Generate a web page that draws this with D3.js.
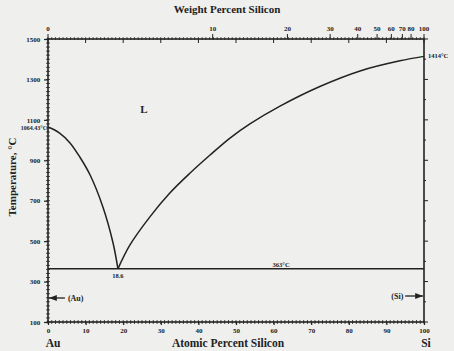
<!DOCTYPE html>
<html>
<head>
<meta charset="utf-8">
<script src="https://cdn.jsdelivr.net/npm/d3@7"></script>
<style>
body{margin:0;background:#efefed;}
svg text{font-family:"Liberation Serif","DejaVu Serif",serif;font-weight:bold;fill:#222;}
</style>
</head>
<body>
<div id="a"></div>
<script>
// liquidus (atomic % Si, deg C)
var leftAt = [0, 3, 5.85, 8.5, 11.2, 14.6, 17.3, 18.6]
var leftT = [1064.43, 1036, 986, 915, 827, 669, 491, 363]
var rightAt = [18.6, 21.8, 27.1, 32.4, 37.8, 43.1, 48.4, 53.7, 61.7, 72.3, 83, 93.6, 100]
var rightT = [363, 481, 620, 738, 837, 926, 1010, 1080, 1168, 1265, 1342, 1392, 1414]
var eutAt = 18.6, eutT = 363
var tempTicks = [100, 300, 500, 700, 900, 1100, 1300, 1500]
var atTicks = [0, 10, 20, 30, 40, 50, 60, 70, 80, 90, 100]
var wtTicks = [0, 10, 20, 30, 40, 50, 60, 70, 80, 100]

var W = 454, H = 351
var x = d3.scaleLinear().domain([0, 100]).range([48, 424])
var y = d3.scaleLinear().domain([100, 1500]).range([322, 39])

// weight % -> atomic % (Au 196.97, Si 28.086)
function wt2at(w) {
	var a = w / 28.086, b = (100 - w) / 196.97
	return 100 * a / (a + b)
}

svg = d3.select("#a").append("svg")
	.attr("width", W)
	.attr("height", H)
	.style("background-color", "#efefed")

var ink = "#222"

// frame
svg.append("rect")
	.attr("x", x(0)).attr("y", y(1500))
	.attr("width", x(100) - x(0)).attr("height", y(100) - y(1500))
	.attr("fill", "none").attr("stroke", ink).attr("stroke-width", 1.6)

// minor ticks, crossing the frame
var minorT = d3.range(100, 1501, 20)
svg.selectAll(".mL").data(minorT).enter().append("line")
	.attr("x1", x(0) - 2).attr("x2", x(0) + 2)
	.attr("y1", d => y(d)).attr("y2", d => y(d))
	.attr("stroke", ink).attr("stroke-width", 0.8)
var minorAt = d3.range(0, 101, 1)
svg.selectAll(".mB").data(minorAt).enter().append("line")
	.attr("x1", d => x(d)).attr("x2", d => x(d))
	.attr("y1", y(100) - 2).attr("y2", y(100) + 2)
	.attr("stroke", ink).attr("stroke-width", 0.8)
svg.selectAll(".mT").data(minorAt).enter().append("line")
	.attr("x1", d => x(d)).attr("x2", d => x(d))
	.attr("y1", y(1500) - 2).attr("y2", y(1500) + 1)
	.attr("stroke", ink).attr("stroke-width", 0.7)
svg.selectAll(".mR").data(d3.range(100, 1501, 100)).enter().append("line")
	.attr("x1", x(100)).attr("x2", d => x(100) + (d % 200 == 100 ? 4 : 2))
	.attr("y1", d => y(d)).attr("y2", d => y(d))
	.attr("stroke", ink).attr("stroke-width", 1)

// top: inward ticks at atomic tens
svg.selectAll(".tIn").data(atTicks).enter().append("line")
	.attr("x1", d => x(d)).attr("x2", d => x(d))
	.attr("y1", y(1500)).attr("y2", y(1500) + 4)
	.attr("stroke", ink).attr("stroke-width", 1)

// left axis
var yAxis = d3.axisLeft(y).tickValues(tempTicks).tickSize(4).tickFormat(d3.format("d"))
var gl = svg.append("g").attr("transform", "translate(" + x(0) + ",0)").call(yAxis)
// bottom axis
var xAxis = d3.axisBottom(x).tickValues(atTicks).tickSize(3).tickFormat(d3.format("d"))
var gb = svg.append("g").attr("transform", "translate(0," + y(100) + ")").call(xAxis)
;[gl, gb].forEach(function(g) {
	g.select(".domain").remove()
	g.selectAll("line").attr("stroke", ink).attr("stroke-width", 1.2)
	g.selectAll("text").style("font-size", "7px").attr("fill", ink)
})
gl.selectAll("text").attr("dx", "-0.1em")

// top weight percent ticks
var gt = svg.selectAll(".wt").data(wtTicks).enter().append("g")
	.attr("transform", d => "translate(" + x(wt2at(d)) + "," + y(1500) + ")")
gt.append("line").attr("y1", 0).attr("y2", -5).attr("stroke", ink).attr("stroke-width", 1)
gt.append("text").attr("y", -8).attr("text-anchor", "middle")
	.style("font-size", "7px").text(d => d)

// liquidus curves
var line = d3.line().x(d => x(d[0])).y(d => y(d[1])).curve(d3.curveCatmullRom.alpha(0.5))
svg.append("path").datum(d3.zip(leftAt, leftT)).attr("d", line)
	.attr("fill", "none").attr("stroke", ink).attr("stroke-width", 1.5)
svg.append("path").datum(d3.zip(rightAt, rightT)).attr("d", line)
	.attr("fill", "none").attr("stroke", ink).attr("stroke-width", 1.5)

// eutectic line
svg.append("line")
	.attr("x1", x(0)).attr("x2", x(100)).attr("y1", y(eutT)).attr("y2", y(eutT))
	.attr("stroke", ink).attr("stroke-width", 1.5)

// arrows
svg.append("defs").append("marker").attr("id", "ar")
	.attr("viewBox", "0 0 10 10").attr("refX", 10).attr("refY", 5)
	.attr("markerWidth", 6).attr("markerHeight", 6).attr("orient", "auto")
	.append("path").attr("d", "M0,1L10,5L0,9z").attr("fill", ink)
svg.append("line").attr("x1", x(4.5)).attr("x2", x(0) + 1).attr("y1", 298).attr("y2", 298)
	.attr("stroke", ink).attr("stroke-width", 1.3).attr("marker-end", "url(#ar)")
svg.append("line").attr("x1", x(95)).attr("x2", x(100) - 1).attr("y1", 296).attr("y2", 296)
	.attr("stroke", ink).attr("stroke-width", 1.3).attr("marker-end", "url(#ar)")

function label(t, px, py, size, anchor) {
	return svg.append("text").attr("x", px).attr("y", py)
		.attr("text-anchor", anchor || "middle").style("font-size", size + "px").text(t)
}
label("(Au)", x(5.3), 300.5, 8, "start")
label("(Si)", x(94.5), 298.5, 8, "end")
label("L", x(25.5), 113, 11)
label("18.6", x(eutAt), y(eutT) + 9, 6.5)
label("363°C", x(62), y(eutT) - 2, 6.5)
label("1064.43°C", 47, y(1064.43) + 3, 6, "end")
label("1414°C", 428, y(1414) + 2, 6.5, "start")
label("Weight Percent Silicon", 227, 13, 11)
label("Atomic Percent Silicon", 228, 347, 11.5)
label("Au", x(0) + 5, 347, 11.5)
label("Si", x(100) + 2, 347, 11.5)
svg.append("text").attr("transform", "translate(16,177) rotate(-90)")
	.attr("text-anchor", "middle").style("font-size", "11px").text("Temperature, °C")
</script>
</body>
</html>
